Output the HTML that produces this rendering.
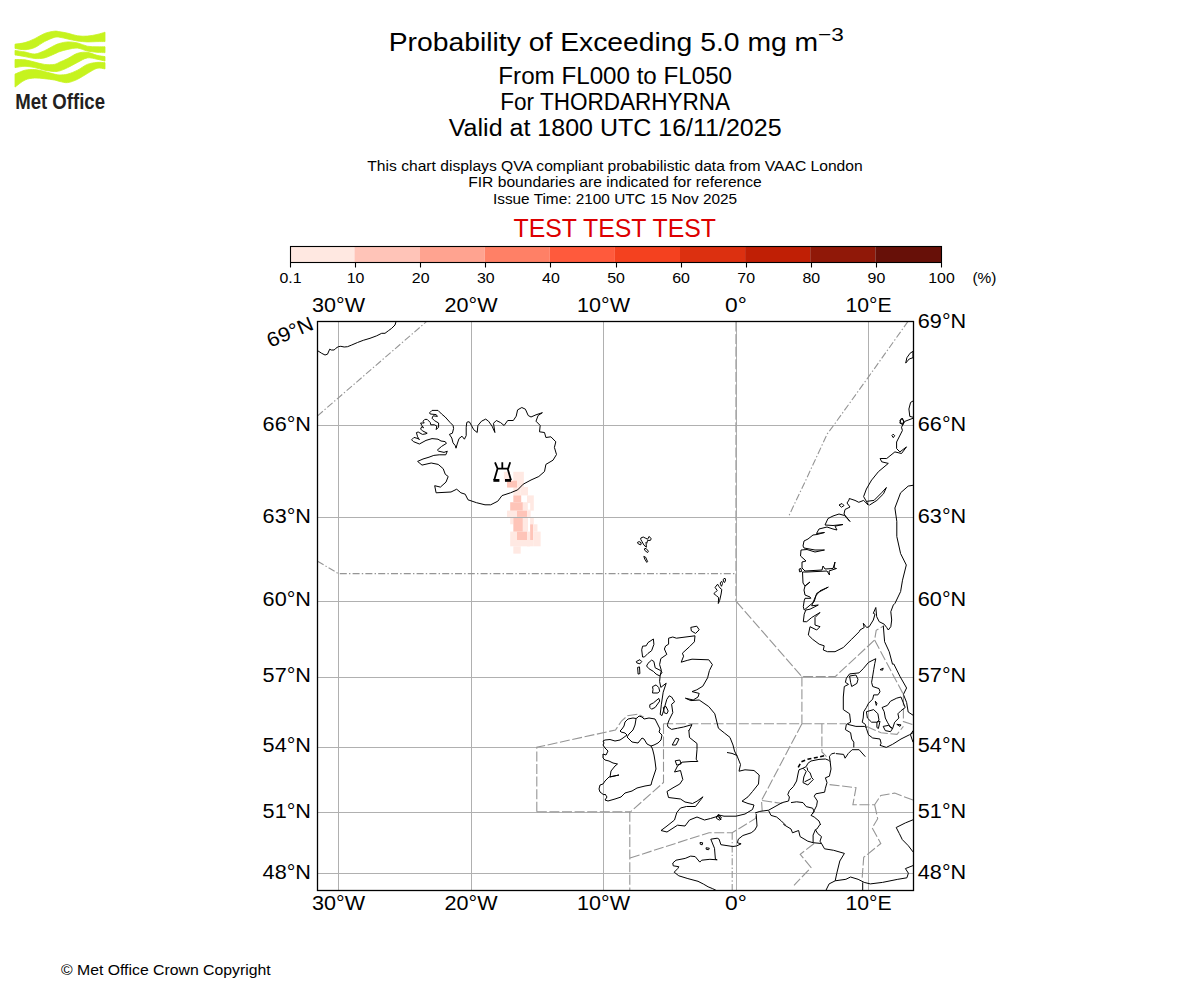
<!DOCTYPE html>
<html><head><meta charset="utf-8"><title>Probability of Exceeding 5.0 mg m-3</title>
<style>
html,body{margin:0;padding:0;background:#fff;}
body{width:1200px;height:1000px;overflow:hidden;position:relative;}
svg{position:absolute;left:0;top:0;}
text{font-family:"Liberation Sans",sans-serif;}
</style></head><body>
<svg width="1200" height="1000" viewBox="0 0 1200 1000">
<g><text x="388.7" y="51.0" font-size="26.25" text-anchor="start" style="fill:#000" textLength="429.5" lengthAdjust="spacingAndGlyphs" >Probability of Exceeding 5.0 mg m</text>
<text x="818.0" y="41.0" font-size="18.38" text-anchor="start" style="fill:#000" textLength="25.8" lengthAdjust="spacingAndGlyphs" >−3</text>
<text x="615.2" y="83.7" font-size="23.33" text-anchor="middle" style="fill:#000" textLength="233.7" lengthAdjust="spacingAndGlyphs" >From FL000 to FL050</text>
<text x="615.2" y="109.7" font-size="23.33" text-anchor="middle" style="fill:#000" textLength="229.9" lengthAdjust="spacingAndGlyphs" >For THORDARHYRNA</text>
<text x="615.2" y="136.3" font-size="23.33" text-anchor="middle" style="fill:#000" textLength="332.8" lengthAdjust="spacingAndGlyphs" >Valid at 1800 UTC 16/11/2025</text>
<text x="615.0" y="170.9" font-size="14.58" text-anchor="middle" style="fill:#000" textLength="495.4" lengthAdjust="spacingAndGlyphs" >This chart displays QVA compliant probabilistic data from VAAC London</text>
<text x="615.0" y="186.7" font-size="14.58" text-anchor="middle" style="fill:#000" textLength="293.6" lengthAdjust="spacingAndGlyphs" >FIR boundaries are indicated for reference</text>
<text x="615.0" y="204.0" font-size="14.58" text-anchor="middle" style="fill:#000" textLength="244.1" lengthAdjust="spacingAndGlyphs" >Issue Time: 2100 UTC 15 Nov 2025</text>
<text x="614.8" y="237.0" font-size="26.25" text-anchor="middle" style="fill:#dd0000" textLength="202.5" lengthAdjust="spacingAndGlyphs" >TEST TEST TEST</text>
<text x="61.0" y="975.0" font-size="14.58" text-anchor="start" style="fill:#000" textLength="209.7" lengthAdjust="spacingAndGlyphs" >© Met Office Crown Copyright</text>
</g>
<rect x="290.50" y="246.5" width="64.00" height="16.00" fill="#ffe8e1"/><rect x="354.50" y="246.5" width="65.10" height="16.00" fill="#ffc4b8"/><rect x="419.60" y="246.5" width="65.10" height="16.00" fill="#ffa390"/><rect x="484.70" y="246.5" width="65.10" height="16.00" fill="#ff8066"/><rect x="549.80" y="246.5" width="65.10" height="16.00" fill="#ff5a3c"/><rect x="614.90" y="246.5" width="65.10" height="16.00" fill="#f4411f"/><rect x="680.00" y="246.5" width="65.10" height="16.00" fill="#dc3010"/><rect x="745.10" y="246.5" width="65.10" height="16.00" fill="#c01f05"/><rect x="810.20" y="246.5" width="65.10" height="16.00" fill="#901808"/><rect x="875.30" y="246.5" width="66.20" height="16.00" fill="#671008"/><rect x="290.5" y="246.5" width="651.0" height="16.0" fill="none" stroke="#000" stroke-width="1.1"/>
<line x1="290.50" y1="262.5" x2="290.50" y2="267.5" stroke="#000" stroke-width="1.1"/><text x="290.5" y="283.0" font-size="14.58" text-anchor="middle" style="fill:#000" textLength="22.1" lengthAdjust="spacingAndGlyphs" >0.1</text>
<line x1="355.50" y1="262.5" x2="355.50" y2="267.5" stroke="#000" stroke-width="1.1"/><text x="355.6" y="283.0" font-size="14.58" text-anchor="middle" style="fill:#000" textLength="17.7" lengthAdjust="spacingAndGlyphs" >10</text>
<line x1="420.50" y1="262.5" x2="420.50" y2="267.5" stroke="#000" stroke-width="1.1"/><text x="420.7" y="283.0" font-size="14.58" text-anchor="middle" style="fill:#000" textLength="17.7" lengthAdjust="spacingAndGlyphs" >20</text>
<line x1="485.50" y1="262.5" x2="485.50" y2="267.5" stroke="#000" stroke-width="1.1"/><text x="485.8" y="283.0" font-size="14.58" text-anchor="middle" style="fill:#000" textLength="17.7" lengthAdjust="spacingAndGlyphs" >30</text>
<line x1="550.50" y1="262.5" x2="550.50" y2="267.5" stroke="#000" stroke-width="1.1"/><text x="550.9" y="283.0" font-size="14.58" text-anchor="middle" style="fill:#000" textLength="17.7" lengthAdjust="spacingAndGlyphs" >40</text>
<line x1="616.50" y1="262.5" x2="616.50" y2="267.5" stroke="#000" stroke-width="1.1"/><text x="616.0" y="283.0" font-size="14.58" text-anchor="middle" style="fill:#000" textLength="17.7" lengthAdjust="spacingAndGlyphs" >50</text>
<line x1="681.50" y1="262.5" x2="681.50" y2="267.5" stroke="#000" stroke-width="1.1"/><text x="681.1" y="283.0" font-size="14.58" text-anchor="middle" style="fill:#000" textLength="17.7" lengthAdjust="spacingAndGlyphs" >60</text>
<line x1="746.50" y1="262.5" x2="746.50" y2="267.5" stroke="#000" stroke-width="1.1"/><text x="746.2" y="283.0" font-size="14.58" text-anchor="middle" style="fill:#000" textLength="17.7" lengthAdjust="spacingAndGlyphs" >70</text>
<line x1="811.50" y1="262.5" x2="811.50" y2="267.5" stroke="#000" stroke-width="1.1"/><text x="811.3" y="283.0" font-size="14.58" text-anchor="middle" style="fill:#000" textLength="17.7" lengthAdjust="spacingAndGlyphs" >80</text>
<line x1="876.50" y1="262.5" x2="876.50" y2="267.5" stroke="#000" stroke-width="1.1"/><text x="876.4" y="283.0" font-size="14.58" text-anchor="middle" style="fill:#000" textLength="17.7" lengthAdjust="spacingAndGlyphs" >90</text>
<line x1="941.50" y1="262.5" x2="941.50" y2="267.5" stroke="#000" stroke-width="1.1"/><text x="941.5" y="283.0" font-size="14.58" text-anchor="middle" style="fill:#000" textLength="26.5" lengthAdjust="spacingAndGlyphs" >100</text>
<text x="984.4" y="283.0" font-size="14.58" text-anchor="middle" style="fill:#000" textLength="24.0" lengthAdjust="spacingAndGlyphs" >(%)</text>
<defs><clipPath id="mc"><rect x="317.5" y="321.5" width="596.0" height="569.0"/></clipPath></defs>
<g clip-path="url(#mc)"><rect x="503.89" y="471.79" width="6.30" height="9.45" fill="#ffe9e3"/>
<rect x="513.34" y="471.79" width="10.49" height="15.22" fill="#ffe9e3"/>
<rect x="513.34" y="487.01" width="7.35" height="8.40" fill="#ffe9e3"/>
<rect x="520.68" y="487.01" width="7.35" height="8.40" fill="#ffe9e3"/>
<rect x="526.98" y="495.40" width="6.82" height="15.22" fill="#ffe9e3"/>
<rect x="522.78" y="502.23" width="4.20" height="8.40" fill="#ffe9e3"/>
<rect x="507.04" y="510.62" width="9.97" height="6.30" fill="#ffe9e3"/>
<rect x="526.98" y="510.62" width="3.67" height="6.30" fill="#ffe9e3"/>
<rect x="510.19" y="516.92" width="3.15" height="7.35" fill="#ffe9e3"/>
<rect x="522.78" y="516.92" width="5.25" height="14.69" fill="#ffe9e3"/>
<rect x="530.13" y="516.92" width="3.67" height="7.35" fill="#ffe9e3"/>
<rect x="533.80" y="524.27" width="3.67" height="7.35" fill="#ffe9e3"/>
<rect x="510.19" y="531.61" width="6.82" height="14.69" fill="#ffe9e3"/>
<rect x="526.98" y="531.61" width="3.15" height="14.69" fill="#ffe9e3"/>
<rect x="533.80" y="531.61" width="6.82" height="14.69" fill="#ffe9e3"/>
<rect x="517.01" y="540.01" width="16.79" height="6.30" fill="#ffe9e3"/>
<rect x="513.34" y="546.30" width="7.35" height="7.35" fill="#ffe9e3"/>
<rect x="527.8" y="503.1" width="2.4" height="6.6" fill="#fff"/>
<rect x="507.04" y="480.71" width="9.97" height="6.82" fill="#fec4b8"/>
<rect x="513.34" y="495.40" width="7.87" height="6.82" fill="#fec4b8"/>
<rect x="510.19" y="502.23" width="12.59" height="8.40" fill="#fec4b8"/>
<rect x="517.01" y="510.62" width="9.97" height="6.30" fill="#fec4b8"/>
<rect x="513.34" y="516.92" width="9.45" height="14.69" fill="#fec4b8"/>
<rect x="530.13" y="524.27" width="3.15" height="15.74" fill="#fec4b8"/>
<rect x="517.01" y="531.61" width="9.97" height="8.40" fill="#fec4b8"/>
<line x1="338.5" y1="321.5" x2="338.5" y2="890.5" stroke="#b0b0b0" stroke-width="1"/><line x1="471.5" y1="321.5" x2="471.5" y2="890.5" stroke="#b0b0b0" stroke-width="1"/><line x1="603.5" y1="321.5" x2="603.5" y2="890.5" stroke="#b0b0b0" stroke-width="1"/><line x1="736.5" y1="321.5" x2="736.5" y2="890.5" stroke="#b0b0b0" stroke-width="1"/><line x1="868.5" y1="321.5" x2="868.5" y2="890.5" stroke="#b0b0b0" stroke-width="1"/><line x1="317.5" y1="425.5" x2="913.5" y2="425.5" stroke="#b0b0b0" stroke-width="1"/><line x1="317.5" y1="517.5" x2="913.5" y2="517.5" stroke="#b0b0b0" stroke-width="1"/><line x1="317.5" y1="601.5" x2="913.5" y2="601.5" stroke="#b0b0b0" stroke-width="1"/><line x1="317.5" y1="677.5" x2="913.5" y2="677.5" stroke="#b0b0b0" stroke-width="1"/><line x1="317.5" y1="747.5" x2="913.5" y2="747.5" stroke="#b0b0b0" stroke-width="1"/><line x1="317.5" y1="812.5" x2="913.5" y2="812.5" stroke="#b0b0b0" stroke-width="1"/><line x1="317.5" y1="873.5" x2="913.5" y2="873.5" stroke="#b0b0b0" stroke-width="1"/><g fill="none" stroke="#959595" stroke-width="1.1"><path d="M317.6,415.8 L426.7,321.4" stroke-dasharray="7,2.2,1.4,2.2"/><path d="M317.6,561.2 L338.4,573.6 L736.2,573.6" stroke-dasharray="7,2.2,1.4,2.2"/><path d="M735.9,321.5 L735.9,601.4" stroke="#9a9a9a" stroke-width="1" stroke-dasharray="10,2.6"/><path d="M736.4,601.6 L801.9,676.6 L835.2,676.6 L874.6,640.0 L876.2,630.4 L884.2,625.6" stroke-dasharray="10,2.6"/><path d="M874.6,640.0 L903.4,694.4 L903.4,721.6 L913.3,724.8" stroke-dasharray="10,2.6"/><path d="M801.9,676.6 L801.9,723.8" stroke-dasharray="10,2.6"/><path d="M663.2,723.8 L846.0,723.8" stroke-dasharray="10,2.6"/><path d="M801.9,723.8 L761.5,800.5 L762.2,811.0" stroke-dasharray="10,2.6"/><path d="M762.2,800.5 L782.5,803.5" stroke-dasharray="10,2.6"/><path d="M821.9,723.8 L821.9,752.0 L826.5,756.7" stroke-dasharray="10,2.6"/><path d="M536.8,811.8 L536.8,747.3 L615.5,730.0 L621.5,721.0 L627.5,715.8 L638.0,714.2 L644.0,717.2" stroke-dasharray="10,2.6"/><path d="M663.5,724.0 L663.5,782.5 L630.5,811.8" stroke-dasharray="10,2.6"/><path d="M536.8,811.8 L630.5,811.8" stroke-dasharray="10,2.6"/><path d="M629.8,811.8 L629.8,890.2" stroke-dasharray="10,2.6"/><path d="M630.0,858.0 L709.0,832.7 L732.2,832.7 L755.5,818.5 L757.0,811.8" stroke-dasharray="10,2.6"/><path d="M732.2,832.7 L732.2,890.2" stroke-dasharray="7,2.2,1.4,2.2"/><path d="M908.0,321.4 L868.5,376.9 L833.9,425.0 L827.3,433.8 L805.9,480.0 L788.5,516.6" stroke-dasharray="7,2.2,1.4,2.2"/><path d="M829.6,784.6 L856.0,787.7 L852.9,804.7 L874.6,804.7 L880.8,795.4 L894.7,793.1 L913.0,800.1" stroke-dasharray="10,2.6"/><path d="M874.6,804.7 L877.7,818.7 L872.2,828.0 L880.8,843.5 L863.7,857.4 L862.2,877.6" stroke-dasharray="10,2.6"/><path d="M814.1,843.5 L800.2,854.3 L811.0,867.5 L794.0,885.3" stroke-dasharray="10,2.6"/><path d="M866.6,726.4 L881.0,732.8 L897.0,734.4 L903.4,726.4" stroke-dasharray="10,2.6"/></g>
<g fill="none" stroke="#000" stroke-width="1" stroke-linejoin="round"><path d="M317.8,350.8 L321.7,353.3 L325.0,355.0 L327.5,354.2 L329.7,349.2 L331.3,350.0 L334.2,350.0 L335.8,348.3 L338.3,346.7 L340.8,346.3 L344.2,347.0 L347.5,346.7 L351.7,345.0 L357.5,342.5 L363.3,340.3 L370.0,338.3 L376.7,335.8 L381.7,333.3 L385.0,333.3 L388.3,330.8 L391.7,328.3 L395.0,325.0 L396.3,320.8"/><path d="M469.4,421.9 L471.5,425.5 L473.7,429.7 L477.2,432.5 L477.9,425.5 L481.5,421.2 L485.7,419.1 L488.5,421.2 L492.1,426.2 L494.9,432.5 L493.5,423.3 L496.3,420.5 L500.6,422.6 L504.1,425.5 L507.7,420.5 L513.3,420.5 L516.2,416.2 L517.6,409.9 L521.8,407.5 L525.4,409.2 L528.2,415.5 L531.0,417.0 L536.0,414.8 L542.4,412.7 L538.1,415.5 L536.0,421.2 L540.2,425.5 L539.5,431.8 L544.5,432.5 L545.9,437.5 L550.9,436.8 L555.8,441.8 L554.4,447.4 L556.5,454.5 L553.0,460.2 L545.9,464.4 L544.5,471.5 L538.8,476.5 L531.0,480.0 L523.2,484.2 L517.6,489.9 L510.5,492.8 L502.0,495.6 L497.8,501.2 L490.7,504.8 L485.0,504.8 L476.5,502.7 L468.0,499.8 L465.2,494.2 L460.9,492.8 L456.7,489.2 L451.0,492.0 L436.1,492.8 L434.7,485.7 L440.4,487.1 L446.0,482.1 L448.2,476.5 L445.3,474.3 L443.2,468.7 L438.2,464.4 L431.2,463.0 L422.0,465.1 L417.6,461.4 L423.0,459.0 L429.0,457.2 L433.8,455.4 L439.2,454.8 L445.8,454.8 L447.3,451.2 L444.0,452.4 L438.6,451.2 L437.4,450.0 L441.6,446.4 L446.4,443.4 L445.2,441.6 L441.0,441.0 L438.0,439.2 L432.0,438.6 L426.0,440.4 L419.4,444.0 L413.4,441.6 L411.6,439.8 L414.0,437.4 L418.2,438.6 L419.4,439.8 L417.6,436.8 L416.4,432.6 L418.2,432.0 L422.4,434.4 L426.0,433.8 L427.2,433.2 L422.4,430.8 L420.6,429.0 L421.8,426.6 L423.6,427.8 L421.8,425.4 L420.6,423.0 L424.2,423.0 L423.0,421.2 L424.8,419.4 L427.2,419.4 L430.2,422.4 L430.8,424.8 L434.4,424.8 L436.8,426.0 L436.2,429.6 L438.6,427.2 L438.6,423.0 L434.4,420.6 L432.0,418.2 L433.2,415.8 L437.4,416.4 L436.2,414.6 L430.2,414.0 L429.6,412.8 L432.0,410.4 L438.0,410.4 L441.6,414.0 L445.2,417.0 L450.0,422.4 L453.0,425.4 L453.6,428.4 L452.4,433.2 L449.4,434.4 L451.8,438.0 L453.0,442.8 L455.4,445.8 L456.0,448.2 L457.2,444.0 L459.0,438.6 L462.0,436.2 L464.4,439.2 L466.2,435.6 L466.2,427.2 L466.8,422.4 L468.0,421.8 Z"/><path d="M905.7,363.1 L906.9,357.7 L910.1,353.2 L913.0,351.4 L913.0,357.7 L909.2,359.0 L905.7,363.1 Z"/><path d="M891.9,435.6 L893.1,434.2 L894.7,435.6 L893.3,437.7 L891.9,435.6 Z"/><path d="M899.8,423.1 L901.2,418.6 L903.9,420.9 L903.0,424.5 L899.8,423.1 Z"/><path d="M913.4,400.8 L910.6,402.4 L908.9,409.0 L909.8,416.4 L913.4,417.3"/><path d="M899.9,420.6 L902.4,418.1 L904.0,422.2 L901.5,423.9 L899.9,420.6 Z"/><path d="M913.4,418.1 L904.8,421.4 L901.5,427.2 L902.4,430.5 L896.6,442.0 L896.6,448.6 L899.9,451.9 L906.5,446.9 L901.5,453.5 L894.9,451.9 L886.7,458.5 L880.1,458.5 L881.7,461.8 L888.3,463.4 L878.4,471.7 L871.8,479.9"/><path d="M871.7,479.9 L866.4,489.0 L863.6,496.6 L866.4,501.4 L868.3,505.1 L863.6,500.4 L858.8,502.3 L855.0,500.4 L849.3,498.5 L849.0,500.0 L847.0,503.0 L850.0,507.0 L845.0,509.5 L844.0,514.0 L850.0,521.5 L844.5,515.5 L839.0,514.0 L833.0,516.0 L828.0,518.5 L825.0,525.0 L833.0,525.5 L843.0,524.5 L835.0,526.2 L837.0,530.0 L833.0,529.0 L827.0,527.0 L819.0,529.0 L816.5,533.5 L824.5,532.5 L817.0,534.5 L813.0,535.0 L808.0,539.0 L804.0,541.0 L803.0,546.0 L804.0,548.0 L815.0,550.0 L824.5,550.0 L815.0,552.0 L807.0,549.5 L801.0,550.0 L800.5,556.0 L805.0,560.0 L806.0,561.0 L802.0,562.0 L802.0,568.0 L805.0,571.0 L822.0,570.0 L823.0,566.0 L825.0,569.0 L833.0,568.5 L835.0,562.0 L834.0,568.0 L836.5,568.5 L829.0,571.0 L829.5,575.0 L827.0,571.0 L807.0,572.0 L802.5,572.0 L803.0,583.0 L805.0,586.0 L810.0,582.0 L805.0,586.0 L804.0,590.0 L805.0,595.0 L810.0,597.0 L810.8,598.3 L805.0,598.3 L804.2,600.8 L803.3,606.7 L804.2,610.0 L814.2,601.7 L816.7,593.3 L828.3,587.1 L820.0,590.8 L815.8,595.8 L811.7,605.8 L818.3,605.0 L810.0,609.2 L805.8,610.0 L804.2,614.2 L803.3,621.7 L806.7,621.7 L811.7,617.5 L820.0,612.5 L815.0,617.5 L815.0,625.0 L820.0,626.7 L816.7,630.0 L810.0,626.7 L808.3,635.0 L812.5,639.2 L819.2,644.2 L824.2,645.8 L823.3,650.0 L827.5,651.7 L835.0,651.7 L843.3,647.5 L851.7,639.2 L859.2,631.7 L860.0,630.0 L864.2,627.5 L863.3,623.3 L866.7,627.5 L869.2,626.7 L873.3,620.0 L875.0,614.2 L873.3,613.3 L875.8,607.5 L876.7,616.7 L879.2,621.7 L884.2,624.2 L886.7,627.5 L888.3,630.0 L890.8,626.7 L891.7,620.0 L890.8,611.7 L893.3,605.0 L895.0,603.3 L900.6,591.6 L902.5,580.2 L906.3,565.0 L900.6,553.6 L896.8,536.5 L896.8,521.3 L894.9,508.0 L900.6,492.8 L908.2,486.1 L913.5,485.2"/><path d="M839.0,505.0 L842.0,503.5 L844.0,505.5 L841.5,507.2 L839.0,505.0 Z"/><path d="M799.2,569.0 L801.0,568.5 L801.5,571.5 L799.5,571.8 L799.2,569.0 Z"/><path d="M866.4,501.4 L874.0,500.4 L881.6,492.8 L886.4,487.5 L883.5,493.8 L876.9,500.4 L869.3,505.2"/><path d="M883.3,625.8 L884.6,641.7 L889.2,651.7 L892.5,664.2 L893.8,664.0 L900.2,676.8 L906.6,688.0 L903.4,694.4 L906.6,702.4 L908.2,712.0 L913.0,715.2"/><path d="M853.8,747.4 L853.8,742.2 L851.7,739.0 L850.6,732.7 L845.4,729.6 L846.4,724.3 L850.6,722.2 L849.6,713.8 L843.3,709.6 L843.3,697.0 L844.3,686.5 L848.5,684.4 L845.4,682.3 L846.4,678.1 L849.6,673.9 L859.0,672.9 L863.2,668.7 L868.5,662.4 L875.8,658.7 L874.8,663.4 L873.7,669.7 L872.7,676.0 L871.6,682.3 L872.7,686.5 L879.0,688.6 L880.0,691.8 L877.9,694.9 L873.7,694.9 L872.7,699.1 L868.5,703.3 L866.4,707.5 L863.7,711.7 L863.2,718.0 L862.2,722.2 L865.3,724.3 L866.4,728.5 L868.5,734.8 L872.7,738.0 L880.0,739.0 L881.1,743.2 L880.0,745.3 L886.3,747.4 L892.6,744.3 L901.0,739.0 L909.4,734.8 L913.0,732.7"/><path d="M849.6,676.0 L855.9,675.0 L858.0,679.2 L856.9,683.4 L851.7,686.5 L850.6,682.3 L849.6,676.0 Z"/><path d="M847.5,724.3 L855.9,726.4 L864.3,726.4 L866.4,727.5"/><path d="M866.4,711.7 L873.7,709.6 L877.9,713.8 L879.0,720.1 L876.9,722.2 L871.6,722.2 L867.4,718.0 L866.4,711.7 Z"/><path d="M882.1,707.5 L887.4,705.4 L890.5,701.2 L896.8,698.1 L901.0,697.0 L903.1,702.3 L905.2,707.5 L901.0,710.7 L897.9,713.8 L898.9,718.0 L894.7,722.2 L892.6,728.5 L890.5,727.5 L887.4,722.2 L885.3,718.0 L884.2,711.7 L882.1,707.5 Z"/><path d="M883.2,726.4 L888.4,725.4 L892.6,728.5 L890.5,731.7 L885.3,730.6 L883.2,726.4 Z"/><path d="M880.0,669.7 L883.2,668.1 L882.6,670.2 L880.0,669.7 Z"/><path d="M875.3,701.2 L876.9,703.3 L876.3,705.4 L875.3,701.2 Z"/><path d="M876.9,722.2 L880.0,721.2 L878.4,728.5 L876.9,727.5 L876.9,722.2 Z"/><path d="M896.8,724.3 L901.0,724.9 L900.0,726.4 L896.8,724.3 Z"/><path d="M913.0,730.6 L910.5,734.8 L913.0,742.2"/><path d="M695.0,635.8 L694.4,641.8 L689.6,646.6 L682.4,653.2 L683.6,656.2 L681.2,662.2 L687.2,660.4 L692.0,659.2 L708.8,659.8 L712.4,664.6 L709.4,670.6 L707.6,677.8 L702.8,686.2 L696.8,689.8 L692.0,691.6 L699.2,693.4 L698.0,697.0 L693.2,700.0 L685.4,698.2 L690.8,700.6 L699.2,700.0 L708.8,706.6 L714.8,713.8 L718.4,728.2 L724.4,733.0 L730.0,737.4"/><path d="M689.0,730.6 L692.0,724.6 L683.6,727.0 L677.6,728.2 L671.6,729.4 L668.0,727.0 L667.4,724.6 L669.2,719.8 L672.8,712.6 L671.6,704.2 L674.6,701.8 L671.6,697.0 L669.2,695.8 L666.8,699.4 L664.4,707.8 L662.0,715.6 L660.2,714.4 L661.4,704.2 L663.2,692.2 L666.2,683.2 L660.8,687.4 L659.6,681.4 L660.2,675.4 L661.4,670.6 L659.6,664.6 L660.8,658.6 L666.8,654.4 L664.4,649.0 L665.6,646.0 L668.6,644.2 L668.6,638.2 L672.8,637.0 L676.4,638.2 L695.0,635.8"/><path d="M663.3,707.4 L666.0,706.5 L668.2,711.0 L666.9,713.7 L664.2,712.8 L663.3,707.4 Z"/><path d="M649.8,704.7 L653.4,702.9 L658.8,698.4 L659.7,701.1 L655.2,707.4 L651.6,709.2 L649.8,707.4 L649.8,704.7 Z"/><path d="M652.5,686.7 L656.1,684.9 L658.8,687.6 L659.7,691.2 L657.9,693.0 L652.5,693.0 L653.0,689.4 L652.5,686.7 Z"/><path d="M646.6,666.0 L648.0,663.3 L651.6,660.1 L653.9,661.5 L655.2,667.8 L660.6,670.5 L662.0,672.3 L659.7,675.9 L656.1,674.1 L653.4,671.4 L648.9,668.7 L646.6,666.0 Z"/><path d="M637.6,667.4 L639.5,666.9 L639.9,673.6 L638.1,674.1 L637.6,667.4 Z"/><path d="M636.3,661.5 L639.9,659.7 L641.7,661.5 L639.9,663.8 L636.8,662.9 L636.3,661.5 Z"/><path d="M642.6,657.0 L641.7,649.8 L642.6,646.2 L646.2,645.8 L648.0,642.6 L653.4,639.0 L653.9,644.4 L651.6,650.7 L648.0,653.4 L644.4,657.0 L642.6,657.0 Z"/><path d="M690.8,627.4 L696.8,626.2 L699.2,629.8 L695.6,633.4 L691.4,631.0 L690.8,627.4 Z"/><path d="M730.0,737.5 L733.0,745.0 L734.5,751.0 L737.5,757.0 L740.5,764.5 L739.0,771.2 L745.0,769.8 L754.0,770.5 L759.2,775.0 L758.5,784.0 L752.5,791.5 L748.0,796.8 L742.0,801.2 L748.0,803.5 L754.0,805.0 L752.5,809.5 L745.0,814.0 L736.0,816.2 L724.0,816.2 L718.0,814.8 L721.0,820.0 L718.0,816.2 L710.5,818.5 L704.5,820.0 L697.0,817.0 L689.5,820.0 L685.0,826.0 L677.5,825.2 L667.0,832.0 L661.0,830.5 L667.0,826.0 L674.5,820.0 L676.8,812.5 L680.5,808.0 L686.5,806.5 L695.5,806.5 L703.0,796.8 L697.0,801.2 L692.5,803.5 L685.0,802.0 L680.5,799.0 L668.5,797.5 L667.0,791.5 L673.0,787.8 L679.8,784.0 L682.8,779.5 L680.5,770.5 L674.5,772.0 L677.5,766.0 L682.0,762.2 L691.0,761.5 L697.8,761.5 L696.2,759.2 L697.0,749.5 L697.0,743.5 L689.5,737.5 L688.8,730.0"/><path d="M716.6,816.3 L718.8,814.6 L721.5,818.0 L719.4,820.1 L716.6,818.5 L716.6,816.3 Z"/><path d="M727.0,752.5 L732.0,753.4 L737.3,755.6"/><path d="M675.2,760.8 L679.8,760.0 L681.2,763.8 L676.8,765.2 L675.2,760.8 Z"/><path d="M672.2,745.0 L676.0,738.2 L679.0,739.0 L676.0,745.0 L672.2,745.0 Z"/><path d="M620.0,731.0 L622.0,729.0 L624.0,726.0 L625.0,722.0 L628.0,719.0 L633.0,718.0 L636.0,718.5 L637.0,718.0 L639.0,716.0 L642.0,717.0 L644.0,719.0 L649.0,718.0 L655.0,719.0 L658.0,725.0 L660.0,729.0 L659.0,732.0 L662.0,735.0 L661.0,740.0 L658.0,743.0 L654.0,745.0 L651.0,746.0 L652.5,749.0 L654.0,755.0 L655.0,761.0 L656.0,769.0 L654.0,775.0 L652.0,781.0 L651.0,785.0 L645.0,786.0 L637.0,788.0 L632.0,791.0 L625.0,793.0 L621.0,797.0 L615.0,799.0 L608.0,801.0 L605.0,800.0 L607.0,797.0 L605.0,794.0 L604.0,795.0 L600.0,792.0 L599.0,789.0 L600.0,785.0 L603.0,784.0 L605.0,781.0 L609.0,777.0 L619.0,775.0 L610.0,777.0 L611.0,771.0 L615.0,766.0 L617.5,764.0 L613.0,763.0 L609.0,761.0 L605.0,760.0 L603.0,758.0 L603.0,754.0 L606.0,755.0 L608.0,751.0 L605.0,748.0 L603.0,745.0 L604.0,743.0 L603.0,741.0 L605.0,740.0 L610.0,739.5 L615.0,741.0 L620.0,740.0 L623.0,738.0 L627.0,735.0 L625.0,733.0 L621.0,732.0 L620.0,731.0 Z"/><path d="M636.0,719.0 L635.0,725.0 L633.0,730.0 L629.0,734.0 L627.0,737.0 L632.0,742.0 L638.0,743.0 L642.0,738.0 L644.0,739.0 L647.0,744.0 L651.0,746.0"/><path d="M716.3,890.5 L712.7,888.7 L708.1,886.8 L703.5,884.1 L698.0,881.3 L687.9,878.6 L678.8,875.8 L674.2,872.2 L677.8,868.5 L678.8,866.7 L673.2,865.8 L672.8,863.0 L676.0,860.2 L685.2,858.4 L690.7,856.1 L695.2,856.6 L699.8,862.1 L701.7,860.2 L709.9,859.3 L717.2,859.8 L715.4,859.3 L714.5,848.3 L710.8,839.2 L717.2,838.2 L719.1,839.2 L720.9,844.7 L732.8,846.5 L736.5,846.0 L741.1,843.8 L737.4,842.8 L738.3,839.2 L742.9,835.5 L751.2,832.8 L754.8,830.0 L757.0,826.0 L756.2,814.0"/><path d="M700.0,842.5 L702.7,842.8 L702.2,844.8 L700.3,844.3 L700.0,842.5 Z"/><path d="M706.0,847.8 L709.3,848.2 L708.7,849.7 L706.3,849.4 L706.0,847.8 Z"/><path d="M835.8,753.6 L843.6,754.4 L845.1,758.2 L848.2,753.6 L852.1,749.7"/><path d="M852.1,749.7 L859.1,749.7 L865.3,756.7"/><path d="M755.0,813.0 L759.8,811.4 L768.6,810.2 L775.0,806.6 L782.2,802.6 L788.6,801.0 L789.4,797.0 L787.8,794.6 L789.4,790.6 L793.4,786.6 L796.6,781.0 L798.2,773.0 L799.0,769.8 L803.0,768.2 L806.2,766.6 L807.8,763.4 L811.0,761.0 L819.0,759.4 L825.4,759.0 L828.6,760.2 L830.2,761.8 L829.4,756.2 L831.8,753.8 L835.0,753.0"/><path d="M803.0,768.2 L806.2,771.4 L803.8,777.0 L803.0,782.6 L807.8,785.0 L813.4,779.4 L811.8,777.8 L810.2,773.0 L807.8,770.6 L807.0,767.4"/><path d="M804.6,781.8 L811.0,778.6"/><path d="M830.2,761.8 L831.0,769.0 L829.4,776.2 L825.4,777.8 L827.0,782.6 L825.4,788.2 L824.6,792.2 L815.8,793.8 L814.2,796.2 L817.4,801.0 L816.6,805.8 L814.2,810.6 L812.6,813.8"/><path d="M791.0,802.6 L796.6,801.8 L803.0,802.6 L806.2,806.6 L812.6,808.2 L814.2,811.4"/><path d="M768.6,810.6 L771.0,815.4 L776.6,817.0 L781.4,821.0 L785.4,825.0"/><path d="M814.2,811.4 L811.0,815.4 L814.2,817.0 L819.0,821.0 L820.6,825.0"/><path d="M783.4,824.4 L791.0,829.0 L792.5,832.8 L798.6,830.5 L800.1,836.6 L807.8,841.2 L813.1,842.7 L821.5,843.5"/><path d="M813.1,842.7 L813.1,835.1 L815.4,829.7 L817.7,833.5 L821.5,836.6 L820.0,841.2 L821.5,843.5"/><path d="M820.0,824.4 L816.9,829.0 L815.4,829.7"/><path d="M821.5,843.5 L824.5,848.8 L833.7,850.3 L844.4,853.4 L839.8,861.0 L836.8,873.2 L835.2,880.8 L845.9,879.3 L850.5,877.0 L858.1,879.3 L864.2,882.4 L870.3,883.9 L882.5,882.4 L897.8,879.3 L906.9,877.8 L908.4,873.2 L905.4,868.6 L913.0,865.6"/><path d="M835.2,880.8 L829.1,883.9 L826.1,890.0"/><path d="M862.7,882.4 L862.7,890.0"/><path d="M913.0,819.8 L905.4,822.9 L896.2,827.5 L899.3,833.5 L902.3,839.6 L908.4,845.8 L913.0,851.9"/><path d="M640.8,538.0 L643.2,537.0 L645.2,538.0 L647.6,539.2 L649.2,536.4 L651.2,538.8 L650.4,540.4 L647.6,540.4 L646.8,543.2 L646.0,542.4 L646.4,547.2 L644.0,545.2 L642.0,541.6 L640.8,539.6 L640.8,538.0 Z"/><path d="M637.4,542.4 L639.2,541.6 L641.2,542.8 L640.8,544.8 L638.4,544.0 L637.4,542.4 Z"/><path d="M644.4,548.8 L646.0,548.4 L648.4,551.2 L647.6,552.6 L644.8,550.4 L644.4,548.8 Z"/><path d="M643.8,556.4 L645.6,557.2 L647.6,561.6 L646.8,562.4 L644.8,559.2 L643.8,556.4 Z"/><path d="M715.1,587.4 L717.6,584.2 L719.0,586.6 L721.1,589.1 L721.8,589.5 L721.1,594.0 L719.7,600.3 L718.3,603.5 L718.6,597.5 L716.5,595.8 L713.8,593.6 L715.5,592.2 L717.2,590.5 L715.5,588.0 L715.1,587.4 Z"/><path d="M720.4,582.5 L721.8,581.4 L722.5,583.5 L721.5,586.3 L720.4,584.5 L720.4,582.5 Z"/><path d="M723.2,579.3 L725.0,578.2 L725.6,580.0 L724.6,582.5 L723.5,581.8 L723.2,579.3 Z"/><path d="M798.2,767.4 L801.4,761.8 L807.0,759.4 L819.0,757.0 L825.4,755.4" stroke-width="1.6" stroke-dasharray="4,2.5"/></g>
<g stroke="#000" stroke-width="1.8" fill="none" stroke-linecap="butt">
<path d="M495,462.3 L497.6,468.6 M502.3,462.3 L502.3,468.6 M510.2,462.3 L508.1,468.6 M497.1,468.6 L508.1,468.6 M497.6,468.6 L494.2,480.2 M507.6,468.6 L511,480.2"/>
</g>
<rect x="493.4" y="479.0" width="6.0" height="2.8" fill="#000"/><rect x="505.0" y="479.0" width="6.0" height="2.8" fill="#000"/>
</g>
<rect x="317.5" y="321.5" width="596" height="569" fill="none" stroke="#000" stroke-width="1.3"/>
<text x="338.5" y="311.6" font-size="20.16" text-anchor="middle" style="fill:#000" textLength="53.0" lengthAdjust="spacingAndGlyphs" >30°W</text>
<text x="338.5" y="909.9" font-size="20.16" text-anchor="middle" style="fill:#000" textLength="53.0" lengthAdjust="spacingAndGlyphs" >30°W</text>
<text x="471.0" y="311.6" font-size="20.16" text-anchor="middle" style="fill:#000" textLength="53.0" lengthAdjust="spacingAndGlyphs" >20°W</text>
<text x="471.0" y="909.9" font-size="20.16" text-anchor="middle" style="fill:#000" textLength="53.0" lengthAdjust="spacingAndGlyphs" >20°W</text>
<text x="603.5" y="311.6" font-size="20.16" text-anchor="middle" style="fill:#000" textLength="53.0" lengthAdjust="spacingAndGlyphs" >10°W</text>
<text x="603.5" y="909.9" font-size="20.16" text-anchor="middle" style="fill:#000" textLength="53.0" lengthAdjust="spacingAndGlyphs" >10°W</text>
<text x="736.0" y="311.6" font-size="20.16" text-anchor="middle" style="fill:#000" textLength="21.8" lengthAdjust="spacingAndGlyphs" >0°</text>
<text x="736.0" y="909.9" font-size="20.16" text-anchor="middle" style="fill:#000" textLength="21.8" lengthAdjust="spacingAndGlyphs" >0°</text>
<text x="868.5" y="311.6" font-size="20.16" text-anchor="middle" style="fill:#000" textLength="46.2" lengthAdjust="spacingAndGlyphs" >10°E</text>
<text x="868.5" y="909.9" font-size="20.16" text-anchor="middle" style="fill:#000" textLength="46.2" lengthAdjust="spacingAndGlyphs" >10°E</text>
<text x="311.0" y="430.6" font-size="20.16" text-anchor="end" style="fill:#000" textLength="48.4" lengthAdjust="spacingAndGlyphs" >66°N</text>
<text x="917.8" y="430.6" font-size="20.16" text-anchor="start" style="fill:#000" textLength="48.4" lengthAdjust="spacingAndGlyphs" >66°N</text>
<text x="311.0" y="522.9" font-size="20.16" text-anchor="end" style="fill:#000" textLength="48.4" lengthAdjust="spacingAndGlyphs" >63°N</text>
<text x="917.8" y="522.9" font-size="20.16" text-anchor="start" style="fill:#000" textLength="48.4" lengthAdjust="spacingAndGlyphs" >63°N</text>
<text x="311.0" y="606.2" font-size="20.16" text-anchor="end" style="fill:#000" textLength="48.4" lengthAdjust="spacingAndGlyphs" >60°N</text>
<text x="917.8" y="606.2" font-size="20.16" text-anchor="start" style="fill:#000" textLength="48.4" lengthAdjust="spacingAndGlyphs" >60°N</text>
<text x="311.0" y="682.2" font-size="20.16" text-anchor="end" style="fill:#000" textLength="48.4" lengthAdjust="spacingAndGlyphs" >57°N</text>
<text x="917.8" y="682.2" font-size="20.16" text-anchor="start" style="fill:#000" textLength="48.4" lengthAdjust="spacingAndGlyphs" >57°N</text>
<text x="311.0" y="752.3" font-size="20.16" text-anchor="end" style="fill:#000" textLength="48.4" lengthAdjust="spacingAndGlyphs" >54°N</text>
<text x="917.8" y="752.3" font-size="20.16" text-anchor="start" style="fill:#000" textLength="48.4" lengthAdjust="spacingAndGlyphs" >54°N</text>
<text x="311.0" y="817.6" font-size="20.16" text-anchor="end" style="fill:#000" textLength="48.4" lengthAdjust="spacingAndGlyphs" >51°N</text>
<text x="917.8" y="817.6" font-size="20.16" text-anchor="start" style="fill:#000" textLength="48.4" lengthAdjust="spacingAndGlyphs" >51°N</text>
<text x="311.0" y="878.8" font-size="20.16" text-anchor="end" style="fill:#000" textLength="48.4" lengthAdjust="spacingAndGlyphs" >48°N</text>
<text x="917.8" y="878.8" font-size="20.16" text-anchor="start" style="fill:#000" textLength="48.4" lengthAdjust="spacingAndGlyphs" >48°N</text>
<text x="917.8" y="327.5" font-size="20.16" text-anchor="start" style="fill:#000" textLength="48.4" lengthAdjust="spacingAndGlyphs" >69°N</text>
<text x="0" y="0" font-size="20.16" textLength="48.4" lengthAdjust="spacingAndGlyphs" transform="translate(270.3,347.7) rotate(-22.8)">69°N</text>
<path d="M15.00,44.20 C16.67,43.93 21.71,43.52 25.00,42.60 C28.29,41.68 31.50,40.22 34.75,38.70 C38.00,37.18 41.24,34.75 44.50,33.50 C47.76,32.25 51.72,31.48 54.30,31.20 C56.88,30.92 57.76,31.47 60.00,31.80 C62.24,32.13 64.83,32.53 67.75,33.20 C70.67,33.87 74.24,35.32 77.50,35.80 C80.76,36.28 84.05,36.32 87.30,36.10 C90.55,35.88 94.05,35.15 97.00,34.50 C99.95,33.85 103.67,32.58 105.00,32.20 L105.00,41.60 C103.67,41.60 99.95,41.55 97.00,41.60 C94.05,41.65 90.55,42.00 87.30,41.90 C84.05,41.80 80.76,41.48 77.50,41.00 C74.24,40.52 70.67,39.62 67.75,39.00 C64.83,38.38 62.24,37.57 60.00,37.30 C57.76,37.03 56.88,36.68 54.30,37.40 C51.72,38.12 47.76,39.92 44.50,41.60 C41.24,43.28 38.00,46.15 34.75,47.50 C31.50,48.85 28.29,49.55 25.00,49.70 C21.71,49.85 16.67,48.62 15.00,48.40 Z" fill="#c6f31e" stroke="#c6f31e" stroke-width="0.8"/>
<path d="M15.00,50.40 C16.67,50.67 21.71,51.40 25.00,52.00 C28.29,52.60 31.50,54.22 34.75,54.00 C38.00,53.78 41.24,52.12 44.50,50.70 C47.76,49.28 51.72,46.73 54.30,45.50 C56.88,44.27 57.76,43.90 60.00,43.30 C62.24,42.70 64.83,41.97 67.75,41.90 C70.67,41.83 74.24,42.18 77.50,42.90 C80.76,43.62 84.05,45.55 87.30,46.20 C90.55,46.85 94.05,46.70 97.00,46.80 C99.95,46.90 103.67,46.80 105.00,46.80 L105.00,52.70 C103.67,52.63 99.95,52.58 97.00,52.30 C94.05,52.02 90.55,51.70 87.30,51.00 C84.05,50.30 80.76,48.37 77.50,48.10 C74.24,47.83 70.67,48.83 67.75,49.40 C64.83,49.97 62.24,50.73 60.00,51.50 C57.76,52.27 56.88,52.93 54.30,54.00 C51.72,55.07 47.76,57.15 44.50,57.90 C41.24,58.65 38.00,58.72 34.75,58.50 C31.50,58.28 28.29,57.20 25.00,56.60 C21.71,56.00 16.67,55.18 15.00,54.90 Z" fill="#c6f31e" stroke="#c6f31e" stroke-width="0.8"/>
<path d="M15.00,59.50 C16.67,59.55 21.71,59.37 25.00,59.80 C28.29,60.23 31.50,61.33 34.75,62.10 C38.00,62.87 41.24,64.02 44.50,64.40 C47.76,64.78 51.72,64.80 54.30,64.40 C56.88,64.00 57.76,62.98 60.00,62.00 C62.24,61.02 64.83,59.95 67.75,58.50 C70.67,57.05 74.24,54.33 77.50,53.30 C80.76,52.27 84.05,51.97 87.30,52.30 C90.55,52.63 94.05,54.58 97.00,55.30 C99.95,56.02 103.67,56.38 105.00,56.60 L105.00,61.10 C103.67,60.78 99.95,59.73 97.00,59.20 C94.05,58.67 90.55,57.37 87.30,57.90 C84.05,58.43 80.76,60.78 77.50,62.40 C74.24,64.02 70.67,66.20 67.75,67.60 C64.83,69.00 62.24,70.15 60.00,70.80 C57.76,71.45 56.88,71.60 54.30,71.50 C51.72,71.40 47.76,70.85 44.50,70.20 C41.24,69.55 38.00,68.25 34.75,67.60 C31.50,66.95 28.29,66.30 25.00,66.30 C21.71,66.30 16.67,67.38 15.00,67.60 Z" fill="#c6f31e" stroke="#c6f31e" stroke-width="0.8"/>
<path d="M15.00,74.10 C16.67,73.45 21.71,70.95 25.00,70.20 C28.29,69.45 31.50,69.38 34.75,69.60 C38.00,69.82 41.24,70.75 44.50,71.50 C47.76,72.25 51.72,73.52 54.30,74.10 C56.88,74.68 57.76,75.00 60.00,75.00 C62.24,75.00 64.83,74.90 67.75,74.10 C70.67,73.30 74.24,71.82 77.50,70.20 C80.76,68.58 84.05,65.70 87.30,64.40 C90.55,63.10 94.05,62.68 97.00,62.40 C99.95,62.12 103.67,62.65 105.00,62.70 L105.00,68.90 C103.67,68.80 99.95,67.53 97.00,68.30 C94.05,69.07 90.55,71.67 87.30,73.50 C84.05,75.33 80.76,77.78 77.50,79.30 C74.24,80.82 70.67,82.23 67.75,82.60 C64.83,82.97 62.24,81.93 60.00,81.50 C57.76,81.07 56.88,80.47 54.30,80.00 C51.72,79.53 47.76,79.03 44.50,78.70 C41.24,78.37 38.00,77.78 34.75,78.00 C31.50,78.22 28.29,78.48 25.00,80.00 C21.71,81.52 16.67,85.92 15.00,87.10 Z" fill="#c6f31e" stroke="#c6f31e" stroke-width="0.8"/>
<text x="15.2" y="109.2" font-size="21.6" font-weight="bold" textLength="89.8" lengthAdjust="spacingAndGlyphs" style="fill:#231f20;font-family:'Liberation Sans',sans-serif">Met Office</text>
</svg>
</body></html>
